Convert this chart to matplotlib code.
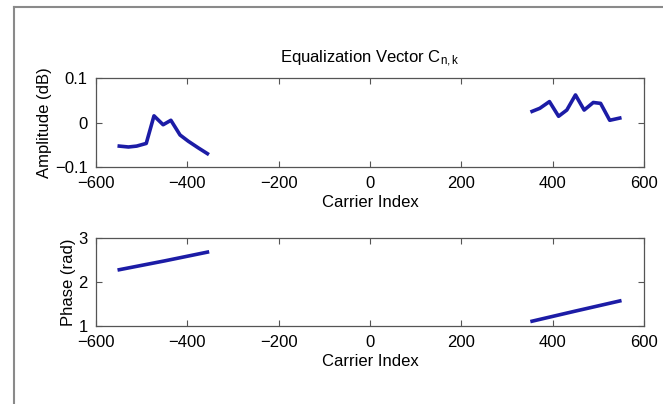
import matplotlib.pyplot as plt
from matplotlib.lines import Line2D

plt.rcParams['font.family'] = ['Liberation Sans', 'DejaVu Sans']
plt.rcParams['mathtext.fontset'] = 'custom'
plt.rcParams['mathtext.rm'] = 'Liberation Sans'
plt.rcParams['mathtext.it'] = 'Liberation Sans'

# amplitude (dB), lower and upper carrier bands
amp_lo_x = [-549, -529, -511, -490, -473, -453, -436, -416, -398, -376, -356]
amp_lo_y = [-0.053, -0.055, -0.053, -0.047, 0.015, -0.005, 0.005, -0.028, -0.042, -0.057, -0.070]
amp_hi_x = [355, 372, 393, 413, 431, 450, 469, 489, 505, 525, 547]
amp_hi_y = [0.025, 0.032, 0.047, 0.014, 0.028, 0.062, 0.028, 0.045, 0.043, 0.005, 0.010]

# phase (rad)
ph_lo_x = [-549, -450, -356]
ph_lo_y = [2.28, 2.48, 2.68]
ph_hi_x = [355, 450, 547]
ph_hi_y = [1.11, 1.34, 1.57]

xticks = [-600, -400, -200, 0, 200, 400, 600]
line_color = '#1c1ca6'
fs = 12

fig = plt.figure(figsize=(6.63, 4.04), dpi=100)
fig.patch.set_facecolor('white')

ax1 = fig.add_axes([0.1448, 0.5866, 0.8265, 0.2203])
ax2 = fig.add_axes([0.1448, 0.193, 0.8265, 0.2178])

ax1.plot(amp_lo_x, amp_lo_y, color=line_color, lw=2.6)
ax1.plot(amp_hi_x, amp_hi_y, color=line_color, lw=2.6)
ax1.set_ylim(-0.1, 0.1)
ax1.set_yticks([-0.1, 0, 0.1])
ax1.set_yticklabels(['\u22120.1', '0', '0.1'])
ax1.set_ylabel('Amplitude (dB)', fontsize=fs, labelpad=2)
ax1.set_title('Equalization Vector C$_{n,k}$', fontsize=fs, pad=11)

ax2.plot(ph_lo_x, ph_lo_y, color=line_color, lw=2.6)
ax2.plot(ph_hi_x, ph_hi_y, color=line_color, lw=2.6)
ax2.set_ylim(1, 3)
ax2.set_yticks([1, 2, 3])
ax2.set_ylabel('Phase (rad)', fontsize=fs, labelpad=2)

for ax in (ax1, ax2):
    ax.set_xlim(-600, 600)
    ax.set_xticks(xticks)
    ax.set_xticklabels([str(t).replace('-', '\u2212') for t in xticks])
    ax.set_xlabel('Carrier Index', fontsize=fs, labelpad=3)
    ax.tick_params(direction='in', top=True, right=True, labelsize=fs,
                   length=4, color='#555555')
    ax.tick_params(axis='x', pad=6.5)
    ax.tick_params(axis='y', pad=6)
    for s in ax.spines.values():
        s.set_color('#555555')
        s.set_linewidth(0.9)

# scanned frame border (left and top edges)
fig.add_artist(Line2D([14 / 663, 14 / 663], [0, 1 - 7 / 404], transform=fig.transFigure,
                      color='#8a8a8a', lw=1.5))
fig.add_artist(Line2D([14 / 663, 1], [1 - 7 / 404, 1 - 7 / 404], transform=fig.transFigure,
                      color='#8a8a8a', lw=1.5))

fig.savefig('out.png', dpi=100)
